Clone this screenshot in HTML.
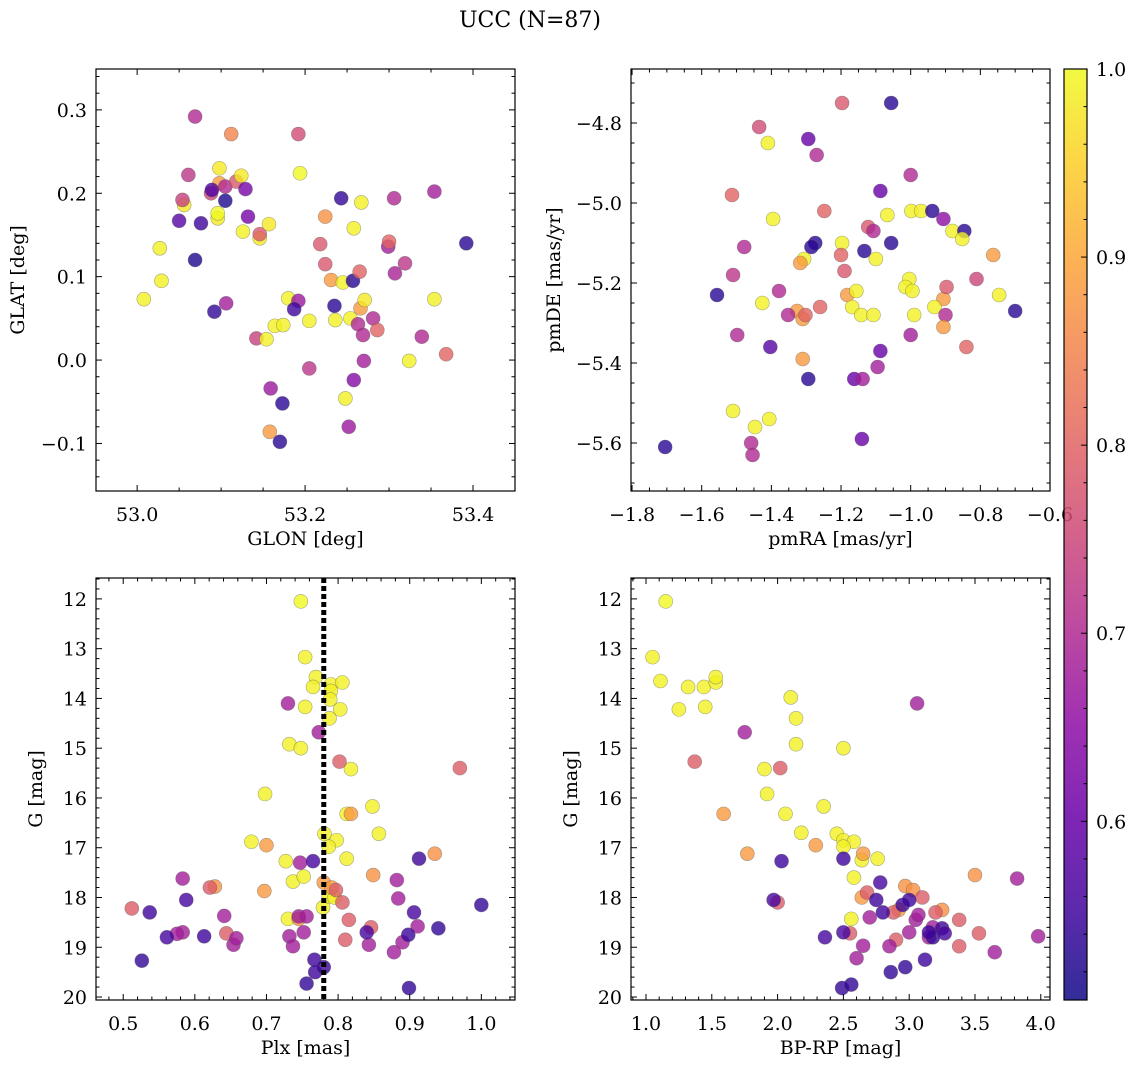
<!DOCTYPE html>
<html><head><meta charset="utf-8">
<style>
body{margin:0;background:#fff;}
svg text{font-family:"DejaVu Serif","Liberation Serif",serif;fill:#000;}
</style></head>
<body>
<svg id="chart" width="1136" height="1068" viewBox="0 0 1136 1068" xmlns="http://www.w3.org/2000/svg">
<text x="530" y="27" font-size="22" text-anchor="middle">UCC (N=87)</text>
</svg>
<script>
// ---------- data ----------
const glon=[53.069,53.112,53.192,53.098,53.194,53.098,53.088,53.105,53.118,53.124,53.061,53.089,53.105,53.129,53.056,53.054,53.050,53.076,53.096,53.096,53.132,53.027,53.069,53.126,53.146,53.146,53.157,53.008,53.029,53.092,53.106,53.142,53.154,53.164,53.174,53.159,53.173,53.158,53.170,53.180,53.192,53.187,53.205,53.205,53.218,53.224,53.224,53.231,53.235,53.245,53.236,53.243,53.254,53.257,53.258,53.248,53.252,53.258,53.263,53.265,53.266,53.267,53.271,53.269,53.270,53.281,53.286,53.299,53.300,53.306,53.307,53.319,53.324,53.339,53.354,53.354,53.368,53.392];
const glat=[0.292,0.271,0.271,0.230,0.224,0.212,0.200,0.208,0.214,0.221,0.222,0.204,0.191,0.205,0.186,0.192,0.167,0.164,0.170,0.176,0.172,0.134,0.120,0.154,0.146,0.151,0.163,0.073,0.095,0.058,0.068,0.026,0.025,0.041,0.042,-0.034,-0.052,-0.086,-0.098,0.074,0.071,0.061,0.047,-0.010,0.139,0.172,0.115,0.096,0.065,0.093,0.048,0.194,0.050,0.095,0.158,-0.046,-0.080,-0.024,0.043,0.106,0.062,0.189,0.072,0.030,-0.001,0.050,0.036,0.136,0.142,0.194,0.104,0.116,-0.001,0.028,0.073,0.202,0.007,0.140];
const probA=[0.70,0.85,0.76,0.98,1.0,0.88,0.75,0.70,0.78,0.98,0.72,0.57,0.52,0.62,0.98,0.74,0.58,0.55,0.98,1.0,0.62,0.99,0.52,0.99,0.98,0.78,0.98,0.99,0.99,0.54,0.68,0.74,0.99,0.99,0.99,0.67,0.53,0.88,0.53,0.99,0.67,0.55,0.99,0.72,0.78,0.87,0.78,0.88,0.53,0.99,0.99,0.54,0.99,0.53,0.99,0.99,0.67,0.64,0.70,0.80,0.88,0.99,0.98,0.70,0.68,0.70,0.80,0.68,0.80,0.70,0.69,0.72,0.99,0.70,0.99,0.68,0.80,0.53];

const pmra=[-1.056,-1.197,-1.435,-1.294,-1.41,-1.27,-1.0,-1.087,-1.513,-1.248,-0.998,-0.97,-0.938,-1.067,-1.395,-0.906,-0.88,-0.846,-1.122,-1.107,-1.478,-1.056,-1.274,-1.285,-1.197,-1.2,-1.306,-1.317,-1.133,-1.1,-0.763,-0.852,-1.19,-1.51,-1.004,-0.811,-1.556,-1.378,-1.182,-1.156,-1.015,-0.995,-0.906,-0.897,-0.746,-1.426,-1.26,-1.168,-0.932,-1.326,-1.31,-1.302,-1.142,-1.107,-0.99,-0.9,-0.7,-1.352,-1.498,-0.906,-1.0,-1.403,-1.087,-0.84,-1.31,-1.095,-1.294,-1.162,-1.138,-1.51,-1.406,-1.447,-1.14,-1.458,-1.454,-1.705];
const pmde=[-4.75,-4.75,-4.81,-4.84,-4.85,-4.88,-4.93,-4.97,-4.98,-5.02,-5.02,-5.02,-5.02,-5.03,-5.04,-5.04,-5.07,-5.07,-5.06,-5.07,-5.11,-5.10,-5.10,-5.11,-5.10,-5.13,-5.14,-5.15,-5.12,-5.14,-5.13,-5.09,-5.17,-5.18,-5.19,-5.19,-5.23,-5.22,-5.23,-5.22,-5.21,-5.22,-5.24,-5.21,-5.23,-5.25,-5.26,-5.26,-5.26,-5.27,-5.29,-5.28,-5.28,-5.28,-5.28,-5.28,-5.27,-5.28,-5.33,-5.31,-5.33,-5.36,-5.37,-5.36,-5.39,-5.41,-5.44,-5.44,-5.44,-5.52,-5.54,-5.56,-5.59,-5.60,-5.63,-5.61];
const probB=[0.53,0.78,0.76,0.60,0.99,0.70,0.70,0.60,0.80,0.80,0.99,0.99,0.53,0.99,0.99,0.65,0.99,0.53,0.78,0.70,0.70,0.53,0.53,0.53,0.99,0.80,0.99,0.88,0.53,0.99,0.88,0.99,0.78,0.72,0.99,0.75,0.53,0.70,0.88,0.99,0.99,0.99,0.88,0.78,0.99,0.99,0.80,0.99,0.99,0.88,0.88,0.80,0.99,0.99,0.99,0.70,0.53,0.70,0.70,0.88,0.68,0.58,0.60,0.80,0.88,0.68,0.53,0.60,0.68,0.99,0.99,0.99,0.60,0.70,0.70,0.53];

const plx=[0.748,0.754,0.769,0.765,0.790,0.790,0.806,0.789,0.754,0.788,0.803,0.732,0.748,0.698,0.818,0.848,0.812,0.857,0.781,0.798,0.679,0.787,0.812,0.727,0.737,0.752,0.779,0.730,0.787,0.795,
0.818,0.697,0.700,0.780,0.791,0.849,0.935,0.628,0.745,
0.970,0.802,0.621,0.512,0.806,0.797,0.815,0.846,0.810,0.644,
0.730,0.773,0.583,0.641,0.583,0.575,0.654,0.658,0.747,0.745,0.756,0.732,0.737,0.752,0.843,0.878,0.882,0.884,0.890,0.911,
0.765,0.913,0.537,0.588,0.613,0.561,0.526,0.767,0.768,0.780,0.756,0.899,0.940,0.898,0.906,1.000,0.840];
const gPlx=[12.05,13.17,13.57,13.77,13.72,13.85,13.68,14.02,14.17,14.40,14.22,14.92,15.00,15.92,15.42,16.17,16.32,16.72,16.72,16.85,16.88,16.98,17.22,17.27,17.68,17.58,18.20,18.43,17.98,18.00,
16.32,17.87,16.95,17.70,17.80,17.55,17.12,17.78,18.43,
15.40,15.27,17.80,18.22,18.10,17.85,18.45,18.60,18.85,18.72,
14.10,14.68,17.62,18.37,18.70,18.73,18.95,18.82,17.30,18.38,18.38,18.78,18.98,18.70,18.95,19.10,17.65,18.02,18.90,18.58,
17.27,17.22,18.30,18.05,18.78,18.80,19.27,19.25,19.50,19.40,19.73,19.82,18.62,18.75,18.30,18.15,18.70];
const probC=[1.0,0.99,0.99,0.99,0.99,0.99,0.99,0.99,0.99,0.99,0.99,0.99,0.99,0.99,0.99,0.99,0.99,0.99,0.99,0.99,0.99,0.99,0.99,0.99,0.99,0.99,0.99,0.99,0.99,0.99,
0.88,0.88,0.88,0.88,0.88,0.87,0.87,0.87,0.87,
0.79,0.79,0.79,0.79,0.79,0.79,0.79,0.79,0.79,0.79,
0.68,0.68,0.68,0.68,0.68,0.68,0.68,0.68,0.68,0.68,0.68,0.68,0.68,0.68,0.68,0.68,0.68,0.68,0.68,0.68,
0.56,0.55,0.55,0.56,0.55,0.56,0.54,0.55,0.55,0.55,0.54,0.54,0.54,0.55,0.56,0.54,0.56];

const bprp=[1.15,1.05,1.11,1.25,1.32,1.44,1.45,1.53,1.53,1.90,1.92,2.10,2.14,2.14,2.06,2.18,2.35,2.50,2.45,2.50,2.58,2.58,2.76,2.56,2.50,2.64,
1.59,1.77,2.29,2.65,2.64,2.92,2.97,3.03,3.25,3.50,
1.37,2.02,2.00,2.68,2.88,3.10,3.38,3.53,3.38,2.90,2.55,3.20,
1.75,3.06,3.82,2.60,2.65,2.85,2.70,3.00,3.05,3.07,3.18,3.15,3.65,3.98,
1.97,2.03,2.36,2.50,2.75,2.78,2.80,2.95,3.00,3.18,3.25,3.27,3.12,2.97,2.86,2.50,2.49,2.56,3.15];
const gCol=[12.05,13.17,13.65,14.22,13.77,13.77,14.17,13.68,13.57,15.42,15.92,13.98,14.40,14.92,16.32,16.70,16.17,15.00,16.72,16.85,16.88,17.60,17.22,18.43,16.98,17.25,
16.32,17.12,16.95,17.12,18.00,18.25,17.77,17.85,18.25,17.55,
15.27,15.40,18.10,17.90,18.30,18.00,18.45,18.72,18.98,18.85,18.72,18.30,
14.68,14.10,17.62,19.22,18.97,18.98,18.40,18.70,18.45,18.35,18.60,18.80,19.10,18.78,
18.05,17.27,18.80,17.22,18.05,17.70,18.30,18.15,18.05,18.80,18.62,18.72,19.25,19.40,19.50,18.70,19.82,19.75,18.70];
const probD=[1.0,0.99,0.99,0.99,0.99,0.99,0.99,0.99,0.99,0.99,0.99,0.99,0.99,0.99,0.99,0.99,0.99,0.99,0.99,0.99,0.99,0.99,0.99,0.99,0.99,0.99,
0.88,0.88,0.88,0.88,0.88,0.88,0.87,0.87,0.87,0.87,
0.79,0.79,0.79,0.79,0.79,0.79,0.79,0.79,0.79,0.79,0.79,0.79,
0.68,0.68,0.68,0.68,0.68,0.68,0.68,0.68,0.68,0.68,0.68,0.68,0.68,0.68,
0.56,0.55,0.56,0.55,0.55,0.56,0.55,0.55,0.55,0.54,0.55,0.56,0.55,0.54,0.54,0.56,0.54,0.54,0.55];

const plxRef=0.78;
const cbTicks=[0.6,0.7,0.8,0.9,1.0];
const VMIN=0.505, VMAX=1.0;

// ---------- helpers ----------
const NS="http://www.w3.org/2000/svg";
const svg=document.getElementById('chart');
const FS=19;
function mk(tag,attrs,parent){const e=document.createElementNS(NS,tag);for(const k in attrs)e.setAttribute(k,attrs[k]);(parent||svg).appendChild(e);return e;}
const plasmaStops2=[[0,[13,8,135]],[0.1,[65,4,157]],[0.2,[106,0,168]],[0.3,[143,13,164]],[0.4,[177,42,144]],[0.5,[204,71,120]],[0.6,[225,100,98]],[0.7,[242,132,75]],[0.8,[252,166,54]],[0.9,[252,206,37]],[1,[240,249,33]]];
function plasma(t){t=Math.max(0,Math.min(1,t));for(let i=1;i<plasmaStops2.length;i++){const [a,ca]=plasmaStops2[i-1],[b,cb]=plasmaStops2[i];if(t<=b){const f=(t-a)/(b-a);return `rgb(${Math.round(ca[0]+f*(cb[0]-ca[0]))},${Math.round(ca[1]+f*(cb[1]-ca[1]))},${Math.round(ca[2]+f*(cb[2]-ca[2]))})`;}}return 'rgb(240,249,33)';}
function pcol(p){return plasma((p-VMIN)/(VMAX-VMIN));}
function fmt(v,d){let s=v.toFixed(d);if(s.startsWith('-'))s='\u2212'+s.slice(1);return s;}

function panel(o){
  const g=mk('g',{});
  
  
  const sx=v=>o.x0+(v-o.xmin)/(o.xmax-o.xmin)*(o.x1-o.x0);
  const sy=v=>o.yinv? o.y0+(v-o.ymin)/(o.ymax-o.ymin)*(o.y1-o.y0) : o.y1-(v-o.ymin)/(o.ymax-o.ymin)*(o.y1-o.y0);
  const pg=mk('g',{},g);
  
  
  for(let i=0;i<o.xs.length;i++){
    const c=mk('circle',{cx:sx(o.xs[i]),cy:sy(o.ys[i]),r:7,fill:pcol(o.ps[i]),'fill-opacity':0.8,stroke:'#555','stroke-opacity':0.5,'stroke-width':0.6},pg);
    
    
  }
  if(o.extra)o.extra(g,sx,sy);
  const f=mk('rect',{x:o.x0,y:o.y0,width:o.x1-o.x0,height:o.y1-o.y0,fill:'none',stroke:'#000','stroke-width':1.2},g);
  
  
  const eps=1e-9;
  for(let v=Math.ceil(o.xmin/o.xminor-eps)*o.xminor;v<=o.xmax+eps;v+=o.xminor){
    const px=sx(v);const isMaj=Math.abs(v/o.xmajor-Math.round(v/o.xmajor))<1e-6;const L=isMaj?6:3.5;
    mk('line',{x1:px,y1:o.y1,x2:px,y2:o.y1-L,stroke:'#000','stroke-width':1},g);
    mk('line',{x1:px,y1:o.y0,x2:px,y2:o.y0+L,stroke:'#000','stroke-width':1},g);
    if(isMaj){const t=mk('text',{x:px,y:o.y1+30,'font-size':FS,'text-anchor':'middle'},g);t.textContent=fmt(v,o.xd);
      
      }
  }
  for(let v=Math.ceil(o.ymin/o.yminor-eps)*o.yminor;v<=o.ymax+eps;v+=o.yminor){
    const py=sy(v);const isMaj=Math.abs(v/o.ymajor-Math.round(v/o.ymajor))<1e-6;const L=isMaj?6:3.5;
    mk('line',{x1:o.x0,y1:py,x2:o.x0+L,y2:py,stroke:'#000','stroke-width':1},g);
    mk('line',{x1:o.x1,y1:py,x2:o.x1-L,y2:py,stroke:'#000','stroke-width':1},g);
    if(isMaj){const t=mk('text',{x:o.x0-9,y:py+7,'font-size':FS,'text-anchor':'end'},g);t.textContent=fmt(v,o.yd);
      
      }
  }
  const xt=mk('text',{x:(o.x0+o.x1)/2,y:o.y1+54,'font-size':FS,'text-anchor':'middle'},g);xt.textContent=o.xlabel;
  
  
  const yx=o.ylx, yy=(o.y0+o.y1)/2;
  const yt=mk('text',{x:yx,y:yy,'font-size':FS,'text-anchor':'middle',transform:`rotate(-90 ${yx} ${yy})`},g);yt.textContent=o.ylabel;
  
  
}

panel({name:'glon-glat-panel',x0:96,x1:515,y0:69,y1:491,xmin:52.951,xmax:53.45,ymin:-0.157,ymax:0.349,
  xmajor:0.2,xminor:0.05,ymajor:0.1,yminor:0.02,xd:1,yd:1,xs:glon,ys:glat,ps:probA,xlabel:'GLON [deg]',ylabel:'GLAT [deg]',ylx:24});
panel({name:'pm-panel',x0:631,x1:1050,y0:69,y1:491,xmin:-1.803,xmax:-0.6,ymin:-5.72,ymax:-4.665,
  xmajor:0.2,xminor:0.05,ymajor:0.2,yminor:0.05,xd:1,yd:1,xs:pmra,ys:pmde,ps:probB,xlabel:'pmRA [mas/yr]',ylabel:'pmDE [mas/yr]',ylx:560});
panel({name:'plx-g-panel',x0:96,x1:515,y0:578,y1:1000,xmin:0.462,xmax:1.047,ymin:11.58,ymax:20.06,yinv:true,
  xmajor:0.1,xminor:0.02,ymajor:1,yminor:0.2,xd:1,yd:0,xs:plx,ys:gPlx,ps:probC,xlabel:'Plx [mas]',ylabel:'G [mag]',ylx:42,
  extra:(g,sx,sy)=>{const l=mk('line',{x1:sx(plxRef),x2:sx(plxRef),y1:578,y2:1000,stroke:'#000','stroke-width':5,'stroke-dasharray':'5 3'},g);
    
    }});
panel({name:'cmd-panel',x0:631,x1:1050,y0:578,y1:1000,xmin:0.886,xmax:4.07,ymin:11.58,ymax:20.06,yinv:true,
  xmajor:0.5,xminor:0.1,ymajor:1,yminor:0.2,xd:1,yd:0,xs:bprp,ys:gCol,ps:probD,xlabel:'BP-RP [mag]',ylabel:'G [mag]',ylx:577});

(function(){
  const x0=1064,x1=1087,y0=69,y1=1000;
  const cb=mk('g',{});
  
  
  const defs=mk('defs',{},cb);
  const lg=mk('linearGradient',{id:'cbg',x1:0,y1:1,x2:0,y2:0},defs);
  for(let i=0;i<=20;i++){mk('stop',{offset:i/20,'stop-color':plasma(i/20),'stop-opacity':0.85},lg);}
  mk('rect',{x:x0,y:y0,width:x1-x0,height:y1-y0,fill:'url(#cbg)',stroke:'#000','stroke-width':1.2},cb);
  const sy=v=>y1-(v-VMIN)/(VMAX-VMIN)*(y1-y0);
  for(let v=0.52;v<=1.0001;v+=0.02){const py=sy(v);const maj=Math.abs(v*10-Math.round(v*10))<1e-6;
    mk('line',{x1:x1,x2:x1-(maj?6:3.5),y1:py,y2:py,stroke:'#000','stroke-width':1},cb);}
  cbTicks.forEach(v=>{const t=mk('text',{x:x1+9,y:sy(v)+7,'font-size':FS},cb);t.textContent=v.toFixed(1);
    
    });
})();
</script>
</body></html>
